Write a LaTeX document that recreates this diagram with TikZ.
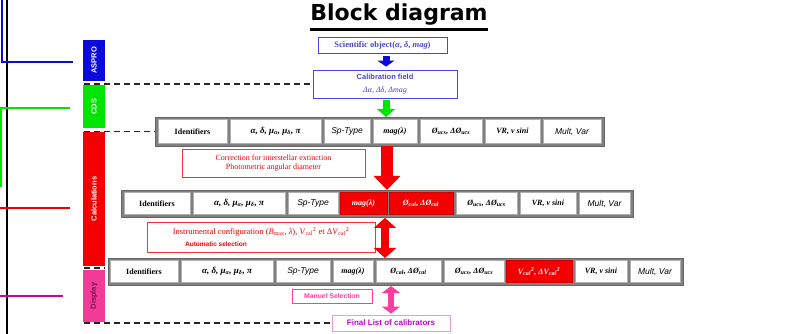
\documentclass[tikz,border=0pt]{standalone}
\usepackage{fontspec}
\setmainfont{Liberation Serif}
\setsansfont{Liberation Sans}
\newfontfamily\titlefont{DejaVu Sans}
\usetikzlibrary{arrows.meta}
\definecolor{asproblue}{RGB}{10,10,220}
\definecolor{boxblue}{RGB}{70,70,220}
\definecolor{cdsgreen}{RGB}{0,230,0}
\definecolor{calcred}{RGB}{245,0,0}
\definecolor{disppink}{RGB}{240,60,150}
\definecolor{disptext}{RGB}{120,20,80}
\definecolor{linemag}{RGB}{210,0,150}
\definecolor{selpink}{RGB}{255,60,160}
\definecolor{finalmag}{RGB}{200,0,210}
\definecolor{finalborder}{RGB}{240,150,210}
\definecolor{rowgray}{RGB}{128,128,128}
\definecolor{cellgray}{RGB}{175,175,175}
\newcommand\mycell[7]{\node[#6, anchor=north west, minimum width={(#3-#2)*1pt}, minimum height={(#5-#4)*1pt}] (#1) at (#2,#4) {#7};}
\newcommand\tIdent{\bfseries Identifiers}
\newcommand\tGreek{\bfseries\itshape\fontsize{9}{10}\selectfont α, δ, μ\textsubscript{α}, μ\textsubscript{δ}, π}
\newcommand\tSp{\sffamily\itshape\fontsize{8.5}{10}\selectfont Sp-Type}
\newcommand\tMag{\bfseries\itshape mag(λ)}
\newcommand\tUcs{\bfseries\itshape Ø\textsubscript{ucs}, ΔØ\textsubscript{ucs}}
\newcommand\tCal{\bfseries\itshape Ø\textsubscript{cal}, ΔØ\textsubscript{cal}}
\newcommand\tVsq{\bfseries\itshape V\textsubscript{cal}\textsuperscript{2}, ΔV\textsubscript{cal}\textsuperscript{2}}
\newcommand\tVR{\bfseries\itshape VR, v sini}
\newcommand\tMult{\sffamily\itshape\fontsize{8.5}{10}\selectfont Mult, Var}
\begin{document}
\begin{tikzpicture}[x=1pt,y=-1pt,
  rowbox/.style={fill=rowgray, draw=rowgray!80!black, line width=0.8pt, inner sep=0pt, outer sep=0pt},
  cell/.style={fill=white, draw=cellgray, line width=0.6pt, inner sep=0pt, outer sep=0pt, text=black, font=\fontsize{8}{9.5}\selectfont},
  redcell/.style={cell, fill=calcred, draw=calcred!85!black, text=white},
  sidebar/.style={rotate=90, inner sep=0pt, outer sep=0pt, minimum height=22pt, text=white, font=\sffamily\bfseries\fontsize{7.5}{8}\selectfont},
  bluebox/.style={draw=boxblue, line width=0.8pt, fill=white, text=boxblue, inner sep=0pt, align=center},
  redbox/.style={draw=calcred!80, line width=0.7pt, fill=white, text=calcred, inner sep=0pt, align=center},
  dashline/.style={draw=black!85, line width=1.8pt, dash pattern=on 6pt off 4pt},
  sideline/.style={line width=2pt}
]
\useasboundingbox (0,0) rectangle (788,334);

% title
\node[anchor=base, inner sep=0pt, font=\titlefont\bfseries\fontsize{22}{24}\selectfont] (title) at (399,21) {Block diagram};
\draw[line width=2.5pt] ([yshift=-8.5pt]title.base west) -- ([yshift=-8.5pt]title.base east);

% left lines
\draw[sideline, black] (7,0) -- (7,334);
\draw[sideline, asproblue] (1.5,0) -- (1.5,62) -- (73,62);
\draw[sideline, cdsgreen] (70,108) -- (1,108) -- (1,187);
\draw[sideline, calcred] (0,208) -- (70,208);
\draw[sideline, linemag] (0,296) -- (63,296);

% side bars
\node[sidebar, fill=asproblue, minimum width=41pt] (aspro) at (94,60.5) {ASPRO};
\node[sidebar, fill=cdsgreen, minimum width=43pt] (cds) at (94,106.5) {CDS};
\node[sidebar, fill=calcred, minimum width=134pt] (calc) at (94,199) {Calculations};
\node[sidebar, fill=disppink, minimum width=52pt, text=disptext] (display) at (94,296) {Display};

% top boxes
\node[bluebox, minimum width=129pt, minimum height=16pt, font=\bfseries\fontsize{8.5}{10}\selectfont] (sci) at (382.5,45) {Scientific object(\textit{α}, \textit{δ}, \textit{mag})};
\node[bluebox, minimum width=144pt, minimum height=28pt] (calib) at (385,84)
  {{\sffamily\bfseries\fontsize{7.5}{9}\selectfont Calibration field}\\[1pt]{\itshape\fontsize{8}{9.5}\selectfont Δα, Δδ, Δmag}};

% row 1
\mycell{r1}{155}{604}{117}{146}{rowbox}{}
\mycell{r1a}{158}{227}{119.5}{143.5}{cell}{\tIdent}
\mycell{r1b}{230}{321}{119.5}{143.5}{cell}{\tGreek}
\mycell{r1c}{324}{370}{119.5}{143.5}{cell}{\tSp}
\mycell{r1d}{373}{417}{119.5}{143.5}{cell}{\tMag}
\mycell{r1e}{420}{482}{119.5}{143.5}{cell}{\tUcs}
\mycell{r1f}{485}{540}{119.5}{143.5}{cell}{\tVR}
\mycell{r1g}{543}{601}{119.5}{143.5}{cell}{\tMult}

\node[redbox, minimum width=183pt, minimum height=28pt, font=\fontsize{8}{9.5}\selectfont] (corr) at (273.5,163)
  {Correction for interstellar extinction\\Photometric angular diameter};

% row 2
\mycell{r2}{121}{633}{190}{217}{rowbox}{}
\mycell{r2a}{124}{190}{192.5}{214.5}{cell}{\tIdent}
\mycell{r2b}{193}{285}{192.5}{214.5}{cell}{\tGreek}
\mycell{r2c}{288}{338}{192.5}{214.5}{cell}{\tSp}
\mycell{r2d}{340}{387}{192.5}{214.5}{redcell}{\tMag}
\mycell{r2e}{389}{453}{192.5}{214.5}{redcell}{\tCal}
\mycell{r2f}{456}{517}{192.5}{214.5}{cell}{\tUcs}
\mycell{r2g}{520}{576}{192.5}{214.5}{cell}{\tVR}
\mycell{r2h}{579}{630}{192.5}{214.5}{cell}{\tMult}

\node[redbox, minimum width=228pt, minimum height=30pt] (instr) at (261,237)
  {{\fontsize{8.5}{10}\selectfont Instrumental configuration (\textit{B}\textsubscript{max}, \textit{λ}), \textit{V}\textsubscript{cal}\textsuperscript{2} et Δ\textit{V}\textsubscript{cal}\textsuperscript{2}}\\
   \makebox[0pt]{\hspace{-90pt}\sffamily\bfseries\fontsize{6.5}{7.5}\selectfont Automatic selection}};

% row 3
\mycell{r3}{108}{683}{258}{285}{rowbox}{}
\mycell{r3a}{110}{178}{260.5}{282.5}{cell}{\tIdent}
\mycell{r3b}{181}{273}{260.5}{282.5}{cell}{\tGreek}
\mycell{r3c}{276}{330}{260.5}{282.5}{cell}{\tSp}
\mycell{r3d}{333}{373}{260.5}{282.5}{cell}{\tMag}
\mycell{r3e}{376}{441}{260.5}{282.5}{cell}{\tCal}
\mycell{r3f}{444}{504}{260.5}{282.5}{cell}{\tUcs}
\mycell{r3g}{506}{572}{260.5}{282.5}{redcell}{\tVsq}
\mycell{r3h}{575}{627}{260.5}{282.5}{cell}{\tVR}
\mycell{r3i}{630}{680}{260.5}{282.5}{cell}{\tMult}

\node[draw=selpink, line width=0.8pt, fill=white, text=selpink, inner sep=0pt, minimum width=80pt, minimum height=14pt, font=\sffamily\bfseries\fontsize{6.8}{8}\selectfont] (manuel) at (332,296) {Manuel Selection};
\node[draw=finalborder, line width=0.8pt, fill=white, text=finalmag, inner sep=0pt, minimum width=118pt, minimum height=16pt, font=\sffamily\bfseries\fontsize{8}{9}\selectfont] (final) at (391,323) {Final List of calibrators};

% dashed separators
\coordinate (L) at (84,0);
\draw[dashline] (L |- calib.west) -- (calib.west);
\draw[dashline] (L |- r1.west) -- (r1.west);
\draw[dashline] (84,268) -- (105,268);
\draw[dashline] (L |- final.west) -- (final.west);

% arrows
\coordinate (ax) at (386,0);
\draw[asproblue, line width=7pt, -{Triangle[width=17pt,length=6pt]}, shorten <=3pt, shorten >=3pt] (ax |- sci.south) -- (ax |- calib.north);
\draw[cdsgreen, line width=7pt, -{Triangle[width=18pt,length=8pt]}, shorten <=2pt] (ax |- calib.south) -- (ax |- r1.north);
\draw[calcred, line width=12pt, -{Triangle[width=26pt,length=14pt]}] ([xshift=1pt]ax |- r1.south) -- ([xshift=1pt]ax |- r2.north);
\draw[calcred, line width=8pt, {Triangle[width=22pt,length=10pt]}-{Triangle[width=22pt,length=10pt]}, shorten <=1pt] ([xshift=-1pt]ax |- r2.south) -- ([xshift=-1pt]ax |- r3.north);
\draw[selpink, line width=6pt, {Triangle[width=18pt,length=7pt]}-{Triangle[width=18pt,length=7pt]}, shorten <=1pt, shorten >=1pt] ([xshift=5pt]ax |- r3.south) -- ([xshift=5pt]ax |- final.north);
\end{tikzpicture}
\end{document}
